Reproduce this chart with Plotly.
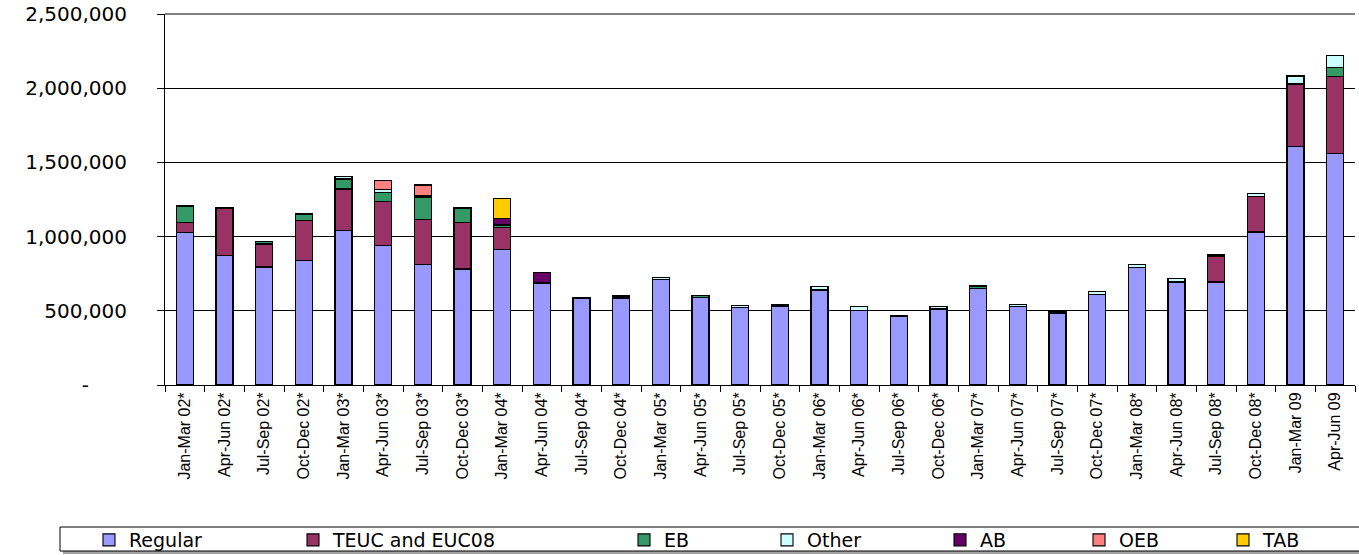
import plotly.graph_objects as go

categories = [
    "Jan-Mar 02*", "Apr-Jun 02*", "Jul-Sep 02*", "Oct-Dec 02*",
    "Jan-Mar 03*", "Apr-Jun 03*", "Jul-Sep 03*", "Oct-Dec 03*",
    "Jan-Mar 04*", "Apr-Jun 04*", "Jul-Sep 04*", "Oct-Dec 04*",
    "Jan-Mar 05*", "Apr-Jun 05*", "Jul-Sep 05*", "Oct-Dec 05*",
    "Jan-Mar 06*", "Apr-Jun 06*", "Jul-Sep 06*", "Oct-Dec 06*",
    "Jan-Mar 07*", "Apr-Jun 07*", "Jul-Sep 07*", "Oct-Dec 07*",
    "Jan-Mar 08*", "Apr-Jun 08*", "Jul-Sep 08*", "Oct-Dec 08*",
    "Jan-Mar 09", "Apr-Jun 09",
]

regular = [1026000, 871000, 795000, 842000, 1040000, 941000, 811000, 782000, 912000, 685000,
           582000, 586000, 712000, 591000, 524000, 532000, 640000, 505000, 460000, 510000,
           651000, 530000, 483000, 611000, 791000, 694000, 694000, 1031000, 1606000, 1557000]
teuc = [70000, 322000, 155000, 265000, 281000, 294000, 306000, 312000, 151000, 0,
        0, 0, 0, 0, 0, 0, 0, 0, 0, 0,
        0, 0, 0, 0, 0, 0, 175000, 238000, 422000, 521000]
eb = [110000, 0, 16000, 45000, 67000, 65000, 150000, 94000, 15000, 5000,
      4000, 14000, 0, 11000, 0, 6000, 0, 0, 7000, 8000,
      10000, 0, 9000, 0, 0, 0, 5000, 0, 0, 63000]
other = [0, 0, 0, 0, 14000, 16000, 8000, 7000, 5000, 0,
         0, 0, 14000, 0, 13000, 6000, 22000, 21000, 0, 10000,
         8000, 14000, 0, 18000, 20000, 22000, 4000, 20000, 54000, 80000]
ab = [0, 0, 0, 0, 0, 0, 0, 0, 40000, 71000,
      0, 0, 0, 0, 0, 0, 0, 0, 0, 0,
      0, 0, 0, 0, 0, 0, 0, 0, 0, 0]
oeb = [0, 0, 0, 0, 0, 65000, 73000, 0, 0, 0,
       0, 0, 0, 0, 0, 0, 0, 0, 0, 0,
       0, 0, 0, 0, 0, 0, 0, 0, 0, 0]
tab = [0, 0, 0, 0, 0, 0, 0, 0, 133000, 0,
       0, 0, 0, 0, 0, 0, 0, 0, 0, 0,
       0, 0, 0, 0, 0, 0, 0, 0, 0, 0]

series_names = ["Regular", "TEUC and EUC08", "EB", "Other", "AB", "OEB", "TAB"]
series_values = [regular, teuc, eb, other, ab, oeb, tab]
series_colors = ["#9999FF", "#993366", "#339966", "#CCFFFF", "#660066", "#FF8080", "#FFCC00"]

y_tick_vals = [0, 500000, 1000000, 1500000, 2000000, 2500000]
y_tick_text = ["-\u00a0\u00a0\u00a0\u00a0\u00a0\u00a0", "500,000", "1,000,000", "1,500,000", "2,000,000", "2,500,000"]

W, H = 1359, 555
ML, MR, MT, MB = 165, 4, 14, 555 - 385
PW = W - ML - MR
PH = H - MT - MB


def px_x(p):
    return (p - ML) / PW


def px_y(p):
    return (385 - p) / PH


legend_symbol_left = [103, 307, 638, 781, 954, 1093, 1237]
legend_font = dict(family="DejaVu Sans, Liberation Sans, Arial", size=19, color="#000000")

fig = go.Figure()
for i, (name, vals, col) in enumerate(zip(series_names, series_values, series_colors)):
    lg = "legend" if i == 0 else f"legend{i + 1}"
    fig.add_trace(go.Bar(
        x=categories,
        y=[v if v else None for v in vals],
        name=name,
        marker=dict(color=col, line=dict(color="#000000", width=1.1)),
        legend=lg,
    ))

layout_legends = {}
for i, sl in enumerate(legend_symbol_left):
    key = "legend" if i == 0 else f"legend{i + 1}"
    layout_legends[key] = dict(
        x=px_x(sl - 14), y=px_y(540), xanchor="left", yanchor="middle",
        orientation="h", bgcolor="rgba(0,0,0,0)", borderwidth=0,
        font=legend_font, itemclick=False,
    )

fig.update_layout(
    width=W, height=H,
    margin=dict(l=ML, r=MR, t=MT, b=MB, autoexpand=False),
    barmode="stack",
    bargap=0.57,
    plot_bgcolor="#FFFFFF",
    paper_bgcolor="#FFFFFF",
    showlegend=True,
    xaxis=dict(
        type="category",
        tickangle=-90,
        tickfont=dict(family="Liberation Sans, Arial", size=16, color="#000000"),
        showline=True, linecolor="#000000", linewidth=1,
        ticks="outside", ticklen=6, tickcolor="#000000", tickson="boundaries",
        showgrid=False,
    ),
    yaxis=dict(
        range=[0, 2500000],
        tickvals=y_tick_vals, ticktext=y_tick_text,
        tickfont=dict(family="DejaVu Sans, Liberation Sans, Arial", size=20, color="#000000"),
        showline=True, linecolor="#000000", linewidth=1,
        ticks="outside", ticklen=7, tickcolor="#000000",
        ticklabelstandoff=26, ticklabeloverflow="allow",
        showgrid=True, gridcolor="#000000", gridwidth=1,
        zeroline=False,
    ),
    shapes=[
        dict(type="line", xref="paper", yref="paper",
             x0=0, x1=1, y0=1, y1=1,
             line=dict(color="#000000", width=1), layer="below"),
        dict(type="rect", xref="paper", yref="paper",
             x0=px_x(63), x1=px_x(1365), y0=px_y(530), y1=px_y(554),
             fillcolor="#A0A0A0", line=dict(width=0), layer="above"),
        dict(type="rect", xref="paper", yref="paper",
             x0=px_x(60), x1=px_x(1362), y0=px_y(527), y1=px_y(551),
             fillcolor="#FFFFFF", line=dict(color="#000000", width=1), layer="above"),
    ],
    **layout_legends,
)

fig.write_html(
    "out.html",
    config={"displayModeBar": False},
    post_script="document.body.style.margin='0px';document.body.style.padding='0px';",
)
